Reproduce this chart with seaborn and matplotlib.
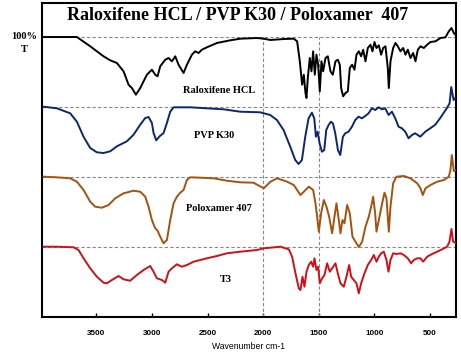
import numpy as np
import pandas as pd
import matplotlib
matplotlib.use("Agg")
import matplotlib.pyplot as plt
import seaborn as sns

# spectra: wavenumber (cm-1) and %T (100 = baseline)
ralox_wn = [3976, 3676, 3556, 3436, 3376, 3316, 3256, 3211, 3181, 3145, 3106, 3046, 3001, 2971, 2950,
            2926, 2881, 2851, 2821, 2791, 2761, 2716, 2686, 2641, 2611, 2581, 2551, 2506, 2416, 2296,
            2206, 2056, 1994, 1934, 1814, 1724, 1694, 1670, 1649, 1634, 1619, 1610, 1598, 1580, 1565,
            1550, 1535, 1520, 1505, 1490, 1475, 1460, 1439, 1418, 1394, 1373, 1349, 1328, 1310, 1298,
            1280, 1259, 1238, 1220, 1199, 1178, 1160, 1139, 1118, 1100, 1079, 1058, 1034, 1016, 998,
            980, 959, 938, 920, 899, 878, 869, 854, 830, 809, 788, 764, 740, 719, 698,
            674, 650, 629, 608, 584, 554, 524, 494, 449, 404, 359, 329, 305, 284, 269]
ralox_t = [100, 100, 90.7, 80.7, 76.7, 74, 65.7, 52.3, 49, 42.3, 49, 62.3, 67.3, 62.3, 60.7,
           70.7, 77.3, 79, 75.7, 80.7, 72.3, 64, 72.3, 82.3, 85.7, 84, 87.3, 89.7, 94, 96.7,
           98.3, 99, 98.3, 97, 98, 98.3, 95.7, 75.7, 52.3, 62.3, 44, 39, 59, 79, 65.7,
           85.7, 62.3, 82.3, 72.3, 45.7, 75.7, 65.7, 79, 80.7, 65.7, 62.3, 75.7, 77.3, 72.3, 49,
           40.7, 44, 45.7, 69, 72.3, 67.3, 82.3, 85.7, 80.7, 87.3, 75.7, 89, 92.3, 85.7, 95,
           89, 91.7, 82.3, 89, 90.7, 69, 49, 75.7, 89, 94, 90.7, 85.7, 89, 82.3, 87.3,
           79, 84, 75.7, 87.3, 90.7, 89, 92.3, 95, 95.7, 99, 99.7, 105.7, 109, 104, 102.3]

pvp_wn = [3976, 3856, 3736, 3676, 3616, 3556, 3496, 3436, 3376, 3316, 3226, 3166, 3106, 3061, 3031,
          3001, 2986, 2962, 2932, 2896, 2866, 2836, 2806, 2656, 2506, 2356, 2206, 2026, 1936, 1876,
          1816, 1756, 1711, 1681, 1651, 1621, 1591, 1561, 1540, 1525, 1510, 1492, 1471, 1450, 1432,
          1411, 1390, 1372, 1351, 1327, 1306, 1282, 1261, 1231, 1201, 1171, 1141, 1111, 1081, 1051,
          1021, 991, 961, 931, 901, 871, 841, 811, 781, 751, 721, 691, 661, 631, 586,
          541, 496, 451, 406, 376, 346, 322, 307, 286, 271]
pvp_t = [100.3, 98.7, 93.7, 85.3, 70.3, 59, 54.7, 54, 55.7, 60.7, 65.7, 72.3, 82.3, 89, 90,
         84, 74, 66.7, 70.7, 74, 84, 95.3, 99.7, 99.7, 98.7, 97.7, 95.3, 94.7, 92, 87,
         77, 60.3, 47, 43, 47, 70.3, 88.7, 94.3, 88.7, 70.3, 75.3, 63.7, 55.3, 57, 77,
         82, 85.3, 83.7, 73.7, 57, 52, 70.3, 73.7, 75.3, 80.3, 87, 90.3, 88.7, 91, 93.7,
         98.7, 97, 99.7, 97.7, 98.7, 92, 95.3, 88.7, 80.3, 78.7, 75.3, 68.7, 72, 73.7, 70.3,
         75.3, 78.7, 82.3, 89, 94, 99, 103.7, 120, 107, 109]

polox_wn = [3976, 3856, 3736, 3676, 3616, 3556, 3511, 3451, 3391, 3331, 3256, 3166, 3106, 3061, 3031,
            3001, 2971, 2950, 2926, 2896, 2866, 2836, 2806, 2776, 2746, 2716, 2686, 2656, 2566, 2446,
            2326, 2206, 2086, 1994, 1934, 1874, 1784, 1724, 1664, 1634, 1589, 1550, 1529, 1514, 1499,
            1478, 1454, 1430, 1406, 1379, 1358, 1340, 1319, 1304, 1286, 1268, 1244, 1220, 1196, 1169,
            1139, 1109, 1079, 1049, 1028, 1010, 992, 980, 959, 929, 908, 890, 869, 854, 830,
            800, 734, 674, 614, 584, 563, 539, 494, 434, 374, 329, 314, 302, 284, 269]
polox_t = [100.3, 99.7, 98.7, 95.3, 87, 75.3, 70.3, 69.3, 72, 78.7, 83.7, 86.3, 85.3, 80.3, 70.3,
           57, 48.7, 46.3, 40.3, 33.7, 37, 57, 73.7, 80.3, 84.3, 87, 97, 99.7, 99.3, 98.7,
           96.3, 94.7, 94.3, 88.7, 95.3, 98.7, 95.3, 92, 82, 85.3, 90.3, 87, 73.7, 60.3, 45.3,
           63.7, 77, 70.3, 60.3, 43.7, 60.3, 73.7, 57, 43.7, 57, 53.7, 72, 63.7, 40.3, 35.3,
           30, 35.3, 50.3, 60.3, 70.3, 80.3, 63.7, 45.3, 57, 73.7, 84.3, 78.7, 45.3, 70.3, 93.7,
           100.3, 101, 98.7, 93.7, 88.7, 82, 88.7, 92, 95.3, 97, 100.3, 107, 122, 106, 107]

t3_wn = [3976, 3856, 3706, 3661, 3616, 3556, 3496, 3436, 3406, 3361, 3301, 3256, 3196, 3136, 3076,
         3016, 2986, 2956, 2911, 2881, 2851, 2821, 2776, 2731, 2686, 2626, 2566, 2506, 2416, 2326,
         2206, 2056, 1994, 1844, 1769, 1739, 1709, 1679, 1664, 1646, 1628, 1610, 1589, 1568, 1550,
         1538, 1520, 1505, 1490, 1469, 1448, 1424, 1400, 1379, 1349, 1328, 1304, 1274, 1250, 1226,
         1208, 1184, 1160, 1139, 1118, 1088, 1058, 1028, 1004, 980, 959, 938, 914, 890, 872,
         854, 830, 800, 764, 734, 698, 668, 644, 614, 584, 560, 524, 479, 434, 389,
         344, 323, 305, 290, 269]
t3_t = [100.3, 100.3, 99.7, 97, 88.7, 78.7, 70.3, 64.3, 63.7, 67, 71, 67.7, 66.3, 72, 77,
        81, 75.3, 68.7, 67, 64.3, 75.3, 78.7, 82.7, 80.3, 82, 85.3, 87, 88.7, 91, 93.7,
        95.3, 97, 98.7, 100.3, 97.7, 90.3, 73.7, 58.7, 57, 70.3, 60.3, 75.3, 82, 85.3, 80.3,
        88.7, 77, 80.3, 63.7, 68.7, 72, 83.7, 75.3, 78.7, 83.7, 73.7, 63.7, 60.3, 70.3, 82,
        70.3, 67, 63.7, 53.7, 63.7, 73.7, 82, 87, 92, 85.3, 90.3, 93.7, 95.3, 87, 75.3,
        87, 93.7, 93, 93.7, 92, 88.7, 83.7, 87, 88.7, 88.7, 85.3, 90.3, 93, 95.3, 97.7,
        100.3, 105.3, 118, 105.3, 104.3]

names = ["Raloxifene HCL", "PVP K30", "Poloxamer 407", "T3"]
offsets = [180, 110, 40, -30]
colors = ["#000000", "#0b2770", "#a5520f", "#cf1018"]

frames = []
for name, wn, t, off in zip(names, [ralox_wn, pvp_wn, polox_wn, t3_wn],
                            [ralox_t, pvp_t, polox_t, t3_t], offsets):
    frames.append(pd.DataFrame({"wn": wn, "y": np.array(t) + off, "sample": name}))
df = pd.concat(frames, ignore_index=True)

sns.set_style("white")
plt.rcParams["font.family"] = ["Liberation Sans", "DejaVu Sans"]
plt.rcParams["text.color"] = "black"
plt.rcParams["axes.labelcolor"] = "black"
plt.rcParams["xtick.color"] = "black"

fig = plt.figure(figsize=(4.61, 3.54), dpi=100)
ax = fig.add_axes([0.0911, 0.1045, 0.8979, 0.887])

# dashed guide lines at each baseline and at 2000 / 1500
for off in offsets:
    ax.axhline(off + 100, color="#888888", ls=(0, (3, 2)), lw=0.8, zorder=1)
ax.vlines([2000, 1500], 0, offsets[0] + 100, color="#888888", ls=(0, (3, 2)), lw=0.8, zorder=1)

sns.lineplot(data=df, x="wn", y="y", hue="sample", palette=dict(zip(names, colors)),
             lw=1.4, legend=False, ax=ax, zorder=3)

ax.set_xlim(3990, 265)
ax.set_ylim(0, 314)
ax.set_xticks([3500, 3000, 2500, 2000, 1500, 1000, 500])
ax.set_yticks([])
ax.tick_params(axis="x", bottom=True, direction="in", length=3, width=1,
               labelsize=5.8, pad=9, colors="black")
for lab in ax.get_xticklabels():
    lab.set_fontweight("bold")
ax.set_xlabel("Wavenumber cm-1", fontsize=6.2, labelpad=4, color="black")
ax.set_ylabel("")
for s in ax.spines.values():
    s.set_linewidth(1.5)
    s.set_color("black")

serif = ["Liberation Serif", "DejaVu Serif"]
ax.text(2231, 302, "Raloxifene HCL / PVP K30 / Poloxamer  407", ha="center", va="center",
        fontsize=13, fontweight="bold", family=serif, color="black")
label_pos = [(2398, 227), (2439, 182), (2394, 109), (2331, 38)]
for name, (x, y) in zip(names, label_pos):
    ax.text(x, y, name, ha="center", va="center", fontsize=7.5, fontweight="bold",
            family=serif, color="black")
ax.text(4150, 281, "100%", ha="center", va="center", fontsize=7.5, fontweight="bold",
        family=serif, color="black", clip_on=False)
ax.text(4150, 268, "T", ha="center", va="center", fontsize=7.5, fontweight="bold",
        family=serif, color="black", clip_on=False)

fig.savefig("out.png", dpi=100)
